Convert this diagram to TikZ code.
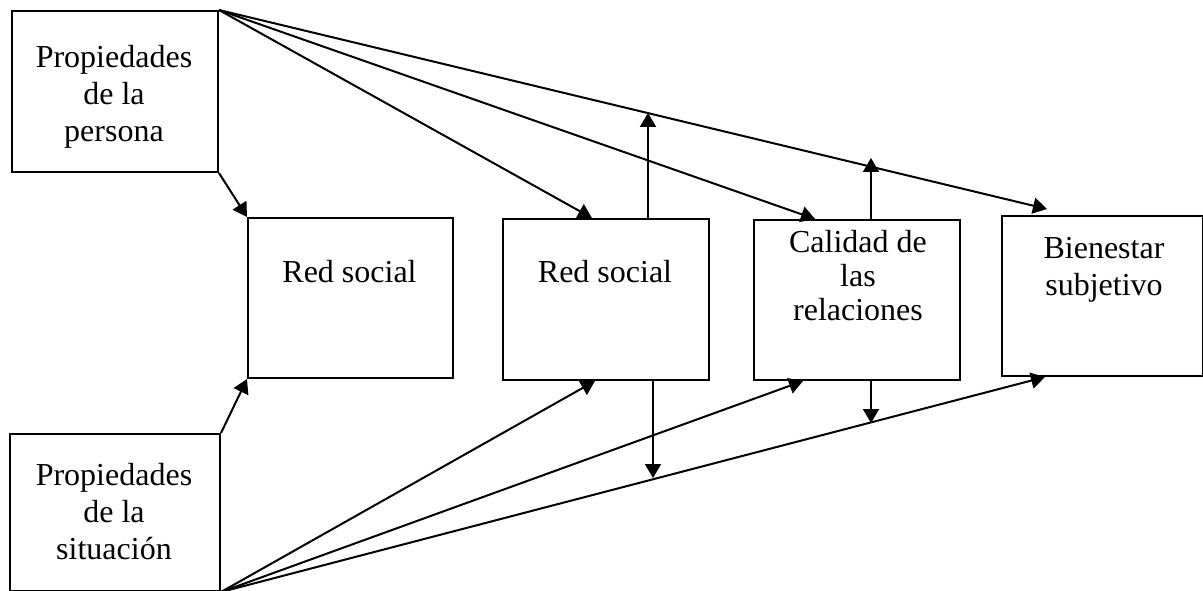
\documentclass[tikz,border=0pt]{standalone}
\usepackage{fontspec}
\setmainfont{Liberation Serif}
\usetikzlibrary{arrows.meta}
\begin{document}
\begin{tikzpicture}[x=1pt,y=-1pt,
  box/.style={draw,line width=2pt,inner sep=0pt,anchor=north west},
  lbl/.style={align=center,font=\fontsize{32}{37}\selectfont,inner sep=0pt},
  arr/.style={line width=2pt,-{Triangle[length=14pt,width=16pt]}}]
\useasboundingbox (0,0) rectangle (1203,591);
% boxes
\node[box,minimum width=206pt,minimum height=161pt] (A) at (11,10) {};
\node[box,minimum width=210pt,minimum height=157pt] (B) at (9,433) {};
\node[box,minimum width=205pt,minimum height=160pt] (C) at (247,217) {};
\node[box,minimum width=206pt,minimum height=161pt] (D) at (502,218) {};
\node[box,minimum width=206pt,minimum height=160pt] (E) at (753,219) {};
\node[box,minimum width=201pt,minimum height=160pt] (F) at (1001,215) {};
% labels
\node[lbl] (At) at (114,97) {Propiedades\\de la\\persona};
\node[lbl] (Bt) at (114,512) {Propiedades\\de la\\situación};
\node[lbl] (Ct) at (349.5,272) {Red social};
\node[lbl] (Dt) at (605,272) {Red social};
\node[lbl,font=\fontsize{32}{34}\selectfont] (Et) at (858,276) {Calidad de\\las\\relaciones};
\node[lbl] (Ft) at (1104,270) {Bienestar\\subjetivo};
% connector end points
\coordinate (Dtop) at ([xshift=90pt]D.north west);
\coordinate (Etop) at ([xshift=62pt]E.north west);
\coordinate (Ftop) at (1047,209);
\coordinate (Dbot) at (595,381);
\coordinate (Ebot) at (803,381);
\coordinate (Fbot) at (1045,377);
\coordinate (Dup0) at (648,218);
\coordinate (Dup1) at (648,113);
\coordinate (Eup0) at (871,219);
\coordinate (Eup1) at (871,158);
\coordinate (Ddn0) at (653,379);
\coordinate (Ddn1) at (653,478);
\coordinate (Edn0) at (871,379);
\coordinate (Edn1) at (871,423);
% connectors
\draw[arr] (A.south east) -- (C.north west);
\draw[arr] (B.north east) -- (C.south west);
\draw[arr] (A.north east) -- (Dtop);
\draw[arr] (A.north east) -- (Etop);
\draw[arr] (A.north east) -- (Ftop);
\draw[arr] (B.south east) -- (Dbot);
\draw[arr] (B.south east) -- (Ebot);
\draw[arr] (B.south east) -- (Fbot);
\draw[arr] (Dup0) -- (Dup1);
\draw[arr] (Eup0) -- (Eup1);
\draw[arr] (Ddn0) -- (Ddn1);
\draw[arr] (Edn0) -- (Edn1);
\end{tikzpicture}
\end{document}
